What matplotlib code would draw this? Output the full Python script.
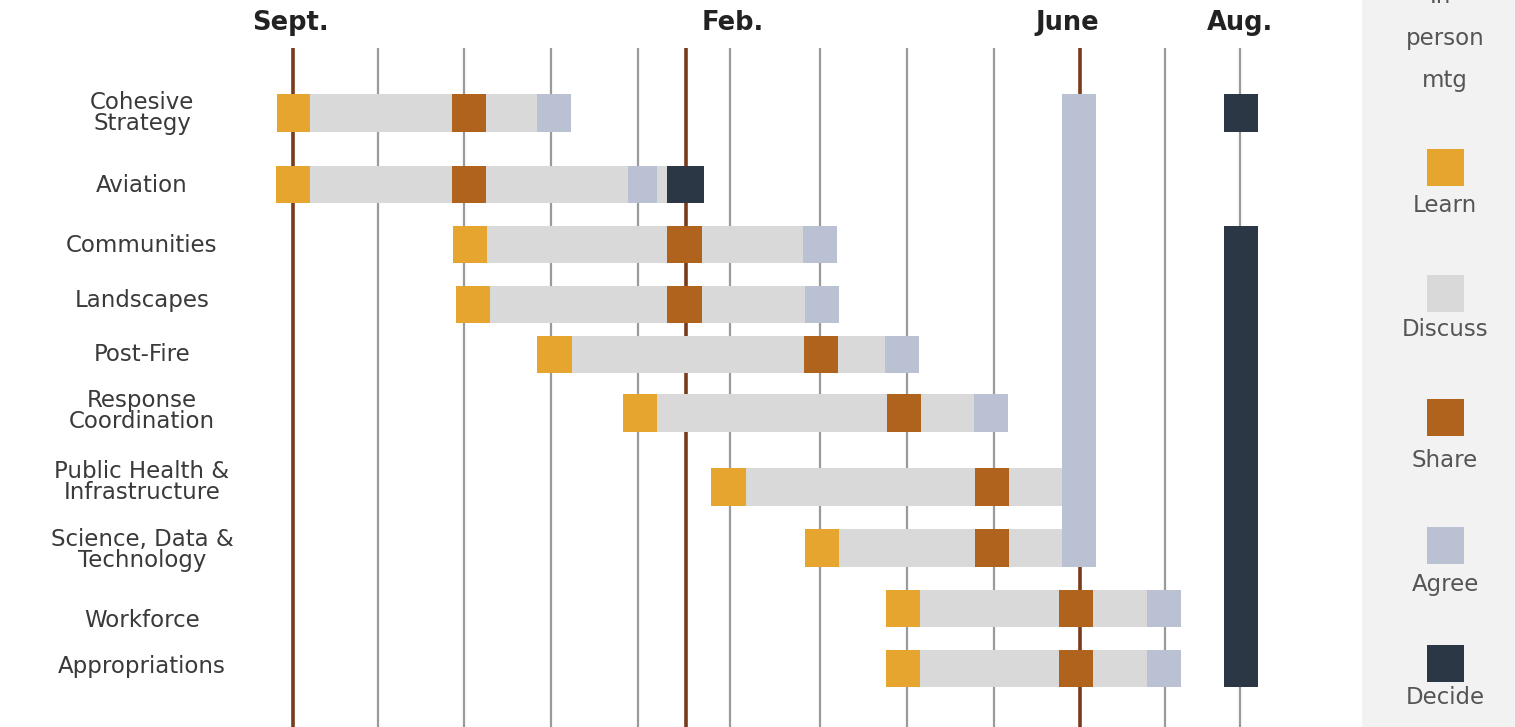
import matplotlib
matplotlib.use("Agg")
import matplotlib.pyplot as plt
from matplotlib.patches import Rectangle

# ---------------- data (x in months after start of Sept.) ----------------
rows = ["Cohesive\nStrategy", "Aviation", "Communities", "Landscapes", "Post-Fire",
        "Response\nCoordination", "Public Health &\nInfrastructure",
        "Science, Data &\nTechnology", "Workforce", "Appropriations"]

discuss = [(0.20, 2.81), (0.20, 4.31), (2.24, 5.88), (2.27, 5.91), (3.22, 6.83),
           (4.20, 7.85), (5.22, 8.87), (6.30, 8.87), (7.23, 9.85), (7.23, 9.85)]
learn = [(-0.18, 0.20), (-0.20, 0.20), (1.85, 2.24), (1.88, 2.27), (2.81, 3.22),
         (3.81, 4.20), (4.82, 5.22), (5.91, 6.30), (6.84, 7.23), (6.84, 7.23)]
share = [(1.83, 2.23), (1.83, 2.23), (4.31, 4.72), (4.31, 4.72), (5.89, 6.29),
         (6.85, 7.24), (7.87, 8.26), (7.87, 8.26), (8.84, 9.23), (8.84, 9.23)]
agree = [(2.81, 3.21), (3.86, 4.20), (5.88, 6.27), (5.91, 6.30), (6.83, 7.22),
         (7.85, 8.25), None, None, (9.85, 10.24), (9.85, 10.24)]
decide = [None, (4.31, 4.74), None, None, None, None, None, None, None, None]

# spanning blocks: (x start, x end, first row, last row)
agree_column = (8.87, 9.26, 0, 7)
decide_blocks = [(10.74, 11.13, 0, 0), (10.74, 11.13, 2, 9)]

grid_months = [0.98, 1.97, 2.98, 3.98, 5.04, 6.08, 7.08, 8.09, 10.06, 10.92]
meeting_months = [0.0, 4.53, 9.08]
month_labels = ["Sept.", "Feb.", "June", "Aug."]
month_label_pos = [-0.03, 5.07, 8.93, 10.92]

legend_names = ["Learn", "Discuss", "Share", "Agree", "Decide"]

# ---------------- layout / style ----------------
row_pos = [0.0, 1.158, 2.131, 3.103, 3.913, 4.861, 6.060, 7.048, 8.028, 9.0]
label_pos = [0.0, 1.18, 2.14, 3.03, 3.91, 4.83, 5.98, 7.08, 8.23, 8.97]
bar_h = 0.608

C_LEARN = "#E5A52F"
C_DISCUSS = "#D9D9D9"
C_SHARE = "#B0631C"
C_AGREE = "#B9C1D3"
C_DECIDE = "#2C3745"
C_GRID = "#9A9A9A"
C_MEET = "#7A3A1C"
colors = [C_LEARN, C_DISCUSS, C_SHARE, C_AGREE, C_DECIDE]

W, H = 1515, 727
fig = plt.figure(figsize=(W / 100, H / 100), dpi=100)
fig.patch.set_facecolor("white")

# legend panel background
fig.patches.append(Rectangle((1362 / W, 0), 1 - 1362 / W, 1, transform=fig.transFigure,
                             facecolor="#F2F2F2", edgecolor="none", zorder=0))

ax = fig.add_axes([0, 0, 1, 1])
ax.set_facecolor("none")
ux = 86.7
uy = 61.72
ax.set_xlim(-293 / ux, (W - 293) / ux)
ax.set_ylim((H - 113) / uy, -113 / uy)
ax.axis("off")

grid_top = (48 - 113) / uy
grid_bot = (H - 113) / uy + 0.5
ax.vlines(grid_months, grid_top, grid_bot, colors=C_GRID, linewidth=1.6, zorder=1)
ax.vlines(meeting_months, grid_top, grid_bot, colors=C_MEET, linewidth=2.6, zorder=1)

for lbl, xp in zip(month_labels, month_label_pos):
    ax.text(xp, (23 - 113) / uy, lbl, ha="center", va="center", fontsize=18.5,
            fontweight="bold", color="#222222")


def hbar(span, y, color):
    if span is None:
        return
    ax.barh(y, span[1] - span[0], left=span[0], height=bar_h, color=color,
            linewidth=0, zorder=2)


for i in range(len(rows)):
    y = row_pos[i]
    hbar(discuss[i], y, C_DISCUSS)
    hbar(learn[i], y, C_LEARN)
    hbar(share[i], y, C_SHARE)
    hbar(agree[i], y, C_AGREE)
    hbar(decide[i], y, C_DECIDE)
    ax.text((142 - 293) / ux, label_pos[i], rows[i], ha="center", va="center",
            fontsize=16.5, color="#3A3A3A", linespacing=0.92)


def column(block, color):
    x0, x1, r0, r1 = block
    top = row_pos[r0] - bar_h / 2
    bot = row_pos[r1] + bar_h / 2
    ax.bar(x0, bot - top, bottom=top, width=x1 - x0, align="edge", color=color,
           linewidth=0, zorder=3)


column(agree_column, C_AGREE)
for b in decide_blocks:
    column(b, C_DECIDE)

# legend (figure pixel layout, y from top)
lx = 1445 / W
fig.text(lx, 1 - (-3) / H, "In-", ha="center", va="center", fontsize=16.5, color="#555555")
fig.text(lx, 1 - 39 / H, "person", ha="center", va="center", fontsize=16.5, color="#555555")
fig.text(lx, 1 - 81 / H, "mtg", ha="center", va="center", fontsize=16.5, color="#555555")
sq_centers = [167, 293, 417, 545, 663]
txt_centers = [206, 330, 461, 584, 698]
sq = 37
for name, col, sc, tc in zip(legend_names, colors, sq_centers, txt_centers):
    fig.patches.append(Rectangle(((1445 - sq / 2) / W, 1 - (sc + sq / 2) / H), sq / W, sq / H,
                                 transform=fig.transFigure, facecolor=col,
                                 edgecolor="none", zorder=2))
    fig.text(lx, 1 - tc / H, name, ha="center", va="center", fontsize=16.5, color="#555555")

fig.savefig("out.png", dpi=100)
